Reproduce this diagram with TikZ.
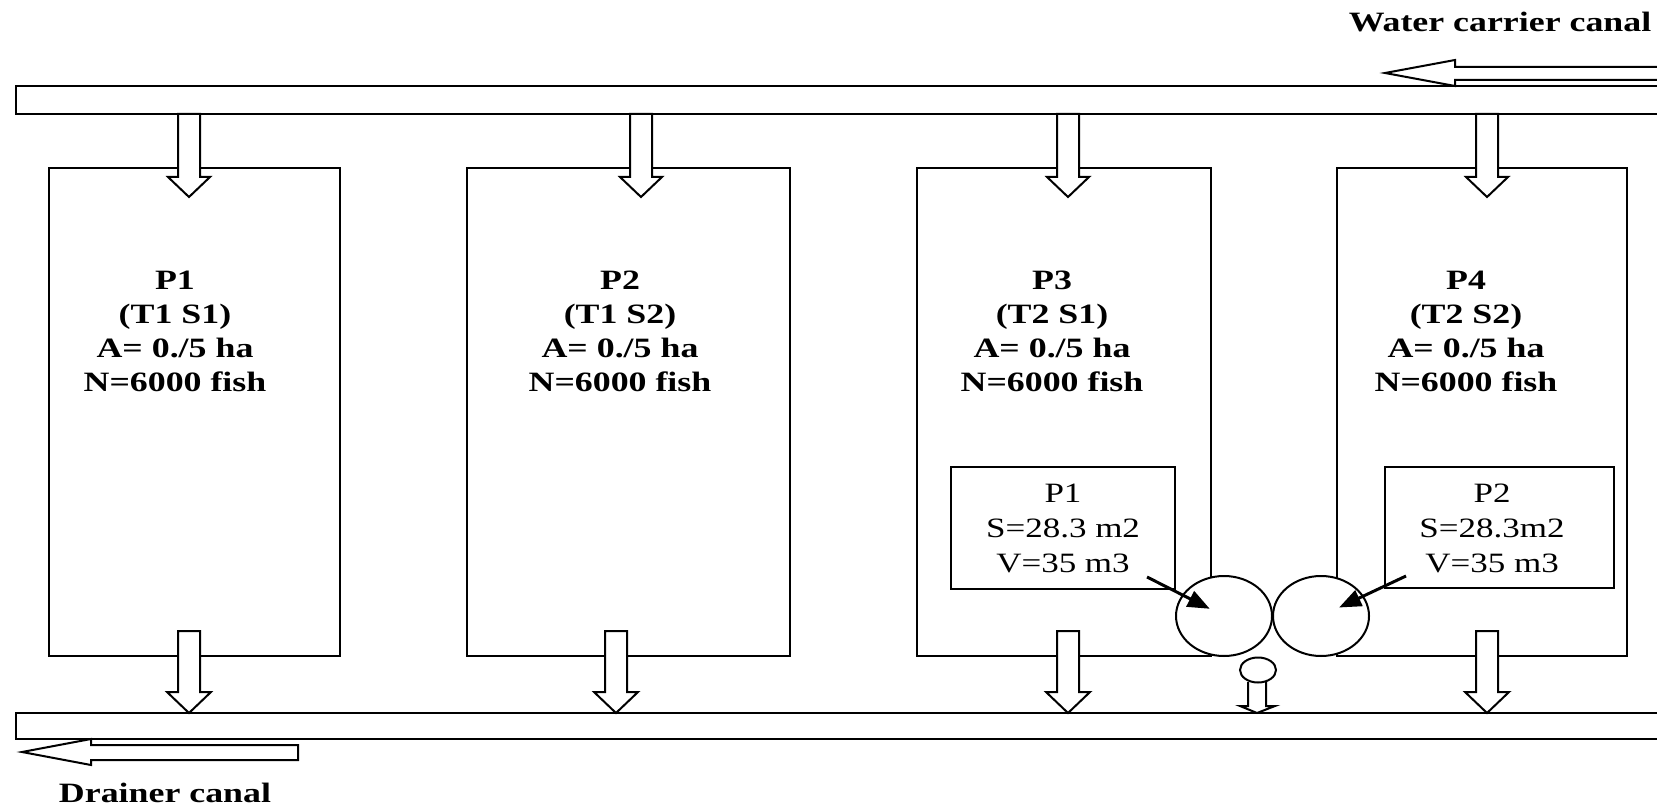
\documentclass[tikz,border=0pt]{standalone}
\usepackage{fontspec}
\setmainfont{Liberation Serif}
\usetikzlibrary{arrows.meta,shapes.geometric}

\begin{document}
\begin{tikzpicture}[x=0.5pt, y=-0.5pt, line width=1pt,
    pondlabel/.style={font=\fontsize{14}{17}\selectfont\bfseries, align=center, xscale=1.28},
    boxlabel/.style={font=\fontsize{14}{17.5}\selectfont, align=center, xscale=1.25},
    canallabel/.style={font=\fontsize{14}{17}\selectfont\bfseries, xscale=1.28},
    blockarrow/.style={draw, fill=white},
    tank/.style={draw, fill=white, ellipse, inner sep=0pt},
    pointer/.style={line width=1.5pt, -{Triangle[length=11pt, width=8.5pt]}}]
    \useasboundingbox (0,0) rectangle (1657,807);

    % Water carrier canal
    \draw (16,86) rectangle (1662,114);
    \draw (1662,67) -- (1455,67) -- (1455,60) -- (1385,73) -- (1455,86) -- (1455,80) -- (1662,80);
    \node[canallabel, anchor=base] (carrier) at (1500,32) {Water carrier canal};

    % Drainer canal
    \draw (16,713) rectangle (1662,739);
    \draw (298,745) -- (91,745) -- (91,739) -- (22,752) -- (91,765) -- (91,760) -- (298,760) -- cycle;
    \node[canallabel, anchor=base] (drainer) at (165,802) {Drainer canal};

    % Ponds
    \foreach \xa/\xb in {49/340, 467/790, 917/1211, 1337/1627}
        \draw (\xa,168) rectangle (\xb,656);

    \node[pondlabel] (p1) at (175,331) {P1\\(T1 S1)\\A= 0./5 ha\\N=6000 fish};
    \node[pondlabel] (p2) at (620,331) {P2\\(T1 S2)\\A= 0./5 ha\\N=6000 fish};
    \node[pondlabel] (p3) at (1052,331) {P3\\(T2 S1)\\A= 0./5 ha\\N=6000 fish};
    \node[pondlabel] (p4) at (1466,331) {P4\\(T2 S2)\\A= 0./5 ha\\N=6000 fish};

    % Inlets
    \foreach \x in {189,641,1068,1487}
        \draw[blockarrow] (\x-11,114) -- (\x-11,177) -- (\x-21,177) -- (\x,197) -- (\x+21,177) -- (\x+11,177) -- (\x+11,114) -- cycle;

    % Outlets
    \foreach \x in {189,616,1068,1487}
        \draw[blockarrow] (\x-11,631) -- (\x-11,692) -- (\x-22,692) -- (\x,713) -- (\x+22,692) -- (\x+11,692) -- (\x+11,631) -- cycle;

    % Tanks
    \draw (951,467) rectangle (1175,589);
    \node[boxlabel] (info1) at (1063,528) {P1\\S=28.3 m2\\V=35 m3};
    \draw (1385,467) rectangle (1614,588);
    \node[boxlabel] (info2) at (1492,528) {P2\\S=28.3m2\\ V=35 m3};

    \draw[blockarrow] (1248,682) -- (1248,706) -- (1240,706) -- (1257,713) -- (1275,706) -- (1266,706) -- (1266,682);
    \node[tank, minimum width=48pt, minimum height=40pt] (tank1) at (1224,616) {};
    \node[tank, minimum width=48pt, minimum height=40pt] (tank2) at (1321,616) {};
    \node[tank, minimum width=18pt, minimum height=12.5pt] (valve) at (1258,670) {};

    \coordinate (tail1) at (1147,577);
    \coordinate (tail2) at (1406,576);
    \draw[pointer, shorten >=8pt] (tail1) -- (tank1.center);
    \draw[pointer, shorten >=10pt] (tail2) -- (tank2.center);
\end{tikzpicture}
\end{document}
